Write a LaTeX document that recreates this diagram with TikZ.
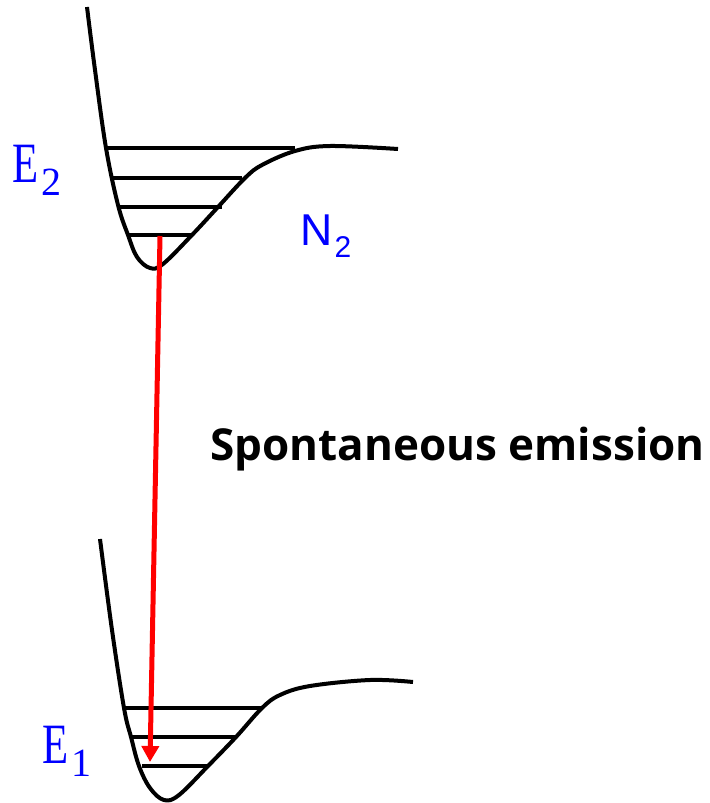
\documentclass[tikz,border=0pt]{standalone}
\usepackage{fontspec}
\setmainfont{Liberation Serif}
\newfontfamily\labelsans{Liberation Sans}
\newfontfamily\titlesans{Open Sans}
\usepackage{tikz}
\usetikzlibrary{arrows.meta, positioning}
\newcommand{\serifsub}[1]{\hspace{1.5pt}\raisebox{-6.5pt}{\fontsize{20}{20}\selectfont #1}}
\newcommand{\sanssub}[1]{\hspace{1pt}\raisebox{-6pt}{\fontsize{15}{15}\selectfont #1}}

\begin{document}
\begin{tikzpicture}[
  x=0.5pt, y=-0.5pt,
  curve/.style={line width=2pt, line join=round},
  level/.style={line width=2pt},
  lvlabel/.style={anchor=base west, inner sep=0pt, text=blue, font=\fontsize{28.5}{28.5}\selectfont},
  molabel/.style={anchor=base west, inner sep=0pt, text=blue, font=\labelsans\fontsize{22.3}{22.3}\selectfont},
  title/.style={anchor=base west, inner sep=0pt, font=\titlesans\bfseries\fontsize{22}{22}\selectfont},
  emit/.style={-{Triangle[length=8pt,width=8.5pt]}, line width=2.5pt, color=red}
]
  \useasboundingbox (0,0) rectangle (709,803);

  % upper state
  \draw[curve] plot[smooth, tension=0.6] coordinates {(87,7) (95,70) (106,148) (118,205) (128,235) (137,257) (150,268) (163,264) (192,235) (218,207) (245,178) (262,165) (295,151) (330,146) (398,149)};
  \draw[level] (106,148) -- (295,148);
  \draw[level] (111,178) -- (242,178);
  \draw[level] (117,207) -- (222,207);
  \draw[level] (128,235) -- (192,235);

  % lower state
  \draw[curve] plot[smooth, tension=0.6] coordinates {(100,539) (112,630) (124,708) (131,737) (139,766) (150,788) (164,800) (179,795) (208,766) (236,737) (262,708) (280,695) (310,686) (370,680) (413,682)};
  \draw[level] (124,708) -- (262,708);
  \draw[level] (130,737) -- (236,737);
  \draw[level] (142,766) -- (208,766);

  \node[lvlabel] (e2) at (12,182) {\scalebox{0.75}[1]{E}\serifsub{2}};
  \node[lvlabel] (e1) at (42,763) {\scalebox{0.75}[1]{E}\serifsub{1}};
  \node[molabel] (n2) at (300,245) {N\sanssub{2}};
  \node[title]   (spont) at (210,460) {Spontaneous emission};

  \coordinate (top) at (160,236);
  \coordinate (bot) at (150,762);
  \draw[emit] (top) -- (bot);
\end{tikzpicture}
\end{document}
